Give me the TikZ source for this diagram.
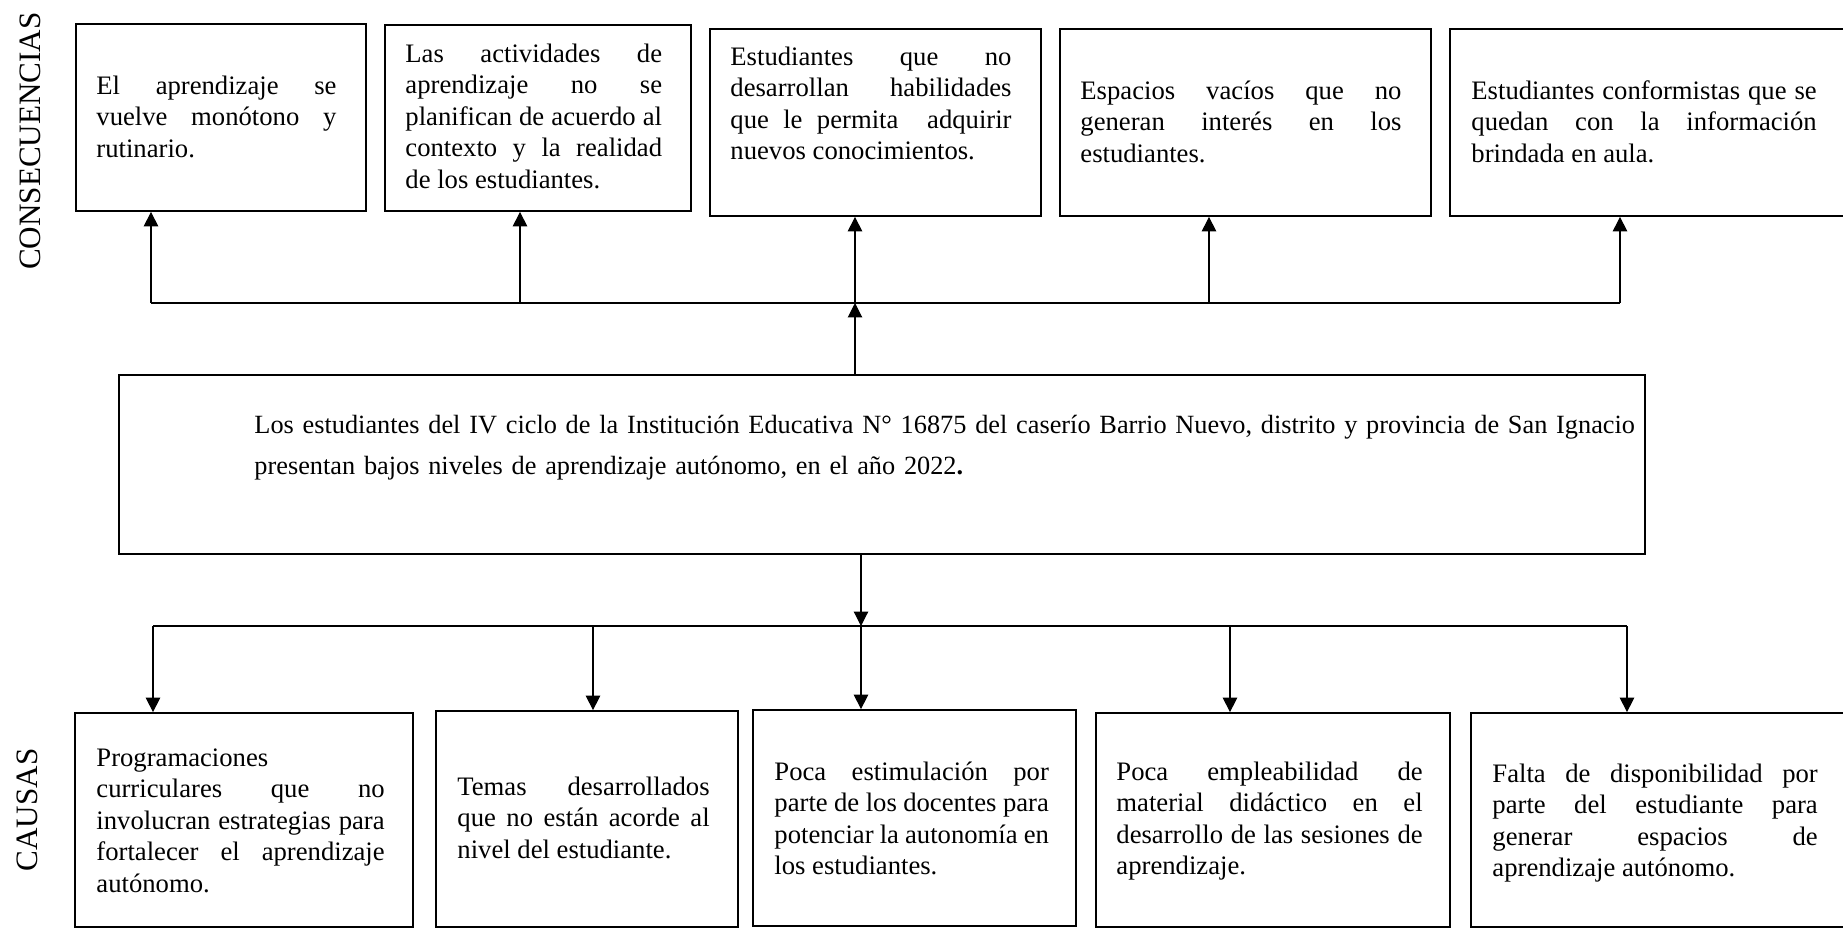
\documentclass[tikz,border=0pt]{standalone}
\usepackage{fontspec}
\setmainfont{Liberation Serif}
\usetikzlibrary{arrows.meta,fit}
\hyphenpenalty=10000
\tolerance=9999
\begin{document}
\begin{tikzpicture}[x=0.45pt,y=-0.45pt,
  box/.style={draw=black, line width=0.8pt, inner sep=0pt},
  txt/.style={anchor=base west, inner sep=0pt, align=justify,
    font=\fontsize{12}{14.2}\selectfont},
  side/.style={rotate=90, inner sep=0pt, font=\fontsize{14}{16}\selectfont},
  conn/.style={line width=0.5pt},
  arr/.style={conn, -{Triangle[length=6.5pt,width=6.5pt]}}]
\useasboundingbox (0,0) rectangle (1843,929);

% side labels
\node[side] (lcons) at (30,141) {CONSECUENCIAS};
\node[side] (lcaus) at (27,810) {CAUSAS};

% top boxes (consequences)
\node[box, fit={(76,24) (366,211)}] (b1) {};
\node[box, fit={(385,25) (691,211)}] (b2) {};
\node[box, fit={(710,29) (1041,216)}] (b3) {};
\node[box, fit={(1060,29) (1431,216)}] (b4) {};
\node[box, fit={(1450,29) (1852,216)}] (b5) {};

\node[txt, text width=108pt] (tb1) at (96,94)
  {El aprendizaje se\linebreak vuelve monótono y\linebreak rutinario.};
\node[txt, text width=115.5pt] (tb2) at (405,62)
  {Las actividades de\linebreak aprendizaje no se\linebreak planifican de acuerdo al\linebreak contexto y la realidad\linebreak de los estudiantes.};
\node[txt, text width=126.5pt] (tb3) at (730,65)
  {Estudiantes que no\linebreak desarrollan habilidades\linebreak que le permita\ \ adquirir\linebreak nuevos conocimientos.};
\node[txt, text width=144.5pt] (tb4) at (1080,99)
  {Espacios vacíos que no\linebreak generan interés en los\linebreak estudiantes.};
\node[txt, text width=155.4pt] (tb5) at (1471,99)
  {Estudiantes conformistas que se\linebreak quedan con la información\linebreak brindada en aula.};

% main problem box
\node[box, fit={(119,375) (1645,554)}] (main) {};
\node[txt, align=left, text width=640pt, font=\fontsize{11.84}{18.5}\selectfont] (tmain) at (254,433)
  {Los estudiantes del IV ciclo de la Institución Educativa N° 16875 del caserío Barrio Nuevo, distrito y provincia de San Ignacio\\
   presentan bajos niveles de aprendizaje autónomo, en el año 2022\textbf{.}};

% bottom boxes (causes)
\node[box, fit={(75,713) (413,927)}] (c1) {};
\node[box, fit={(436,711) (738,927)}] (c2) {};
\node[box, fit={(753,710) (1076,926)}] (c3) {};
\node[box, fit={(1096,713) (1450,927)}] (c4) {};
\node[box, fit={(1471,713) (1852,927)}] (c5) {};

\node[txt, text width=129.7pt] (tc1) at (96,766)
  {Programaciones\newline curriculares que no\linebreak involucran estrategias para\linebreak fortalecer el aprendizaje\linebreak autónomo.};
\node[txt, text width=113.5pt] (tc2) at (457,795)
  {Temas desarrollados\linebreak que no están acorde al\linebreak nivel del estudiante.};
\node[txt, text width=123.5pt] (tc3) at (774,780)
  {Poca estimulación por\linebreak parte de los docentes para\linebreak potenciar la autonomía en\linebreak los estudiantes.};
\node[txt, text width=137.8pt] (tc4) at (1116,780)
  {Poca empleabilidad de\linebreak material didáctico en el\linebreak desarrollo de las sesiones de\linebreak aprendizaje.};
\node[txt, text width=146.4pt] (tc5) at (1492,782)
  {Falta de disponibilidad por\linebreak parte del estudiante para\linebreak generar espacios de\linebreak aprendizaje autónomo.};

% top connectors
\coordinate (t1) at (151,303);
\coordinate (t2) at (520,303);
\coordinate (jt) at (855,303);
\coordinate (t4) at (1209,303);
\coordinate (t5) at (1620,303);
\draw[conn] (t1) -- (t5);
\draw[arr] (main.north -| jt) -- (jt);
\draw[arr] (t1) -- (t1 |- b1.south);
\draw[arr] (t2) -- (t2 |- b2.south);
\draw[arr] (jt) -- (jt |- b3.south);
\draw[arr] (t4) -- (t4 |- b4.south);
\draw[arr] (t5) -- (t5 |- b5.south);

% bottom connectors
\coordinate (d1) at (153,626);
\coordinate (d2) at (593,626);
\coordinate (jb) at (861,626);
\coordinate (d4) at (1230,626);
\coordinate (d5) at (1627,626);
\draw[conn] (d1) -- (d5);
\draw[arr] (main.south -| jb) -- (jb);
\draw[arr] (d1) -- (d1 |- c1.north);
\draw[arr] (d2) -- (d2 |- c2.north);
\draw[arr] (jb) -- (jb |- c3.north);
\draw[arr] (d4) -- (d4 |- c4.north);
\draw[arr] (d5) -- (d5 |- c5.north);
\end{tikzpicture}
\end{document}
